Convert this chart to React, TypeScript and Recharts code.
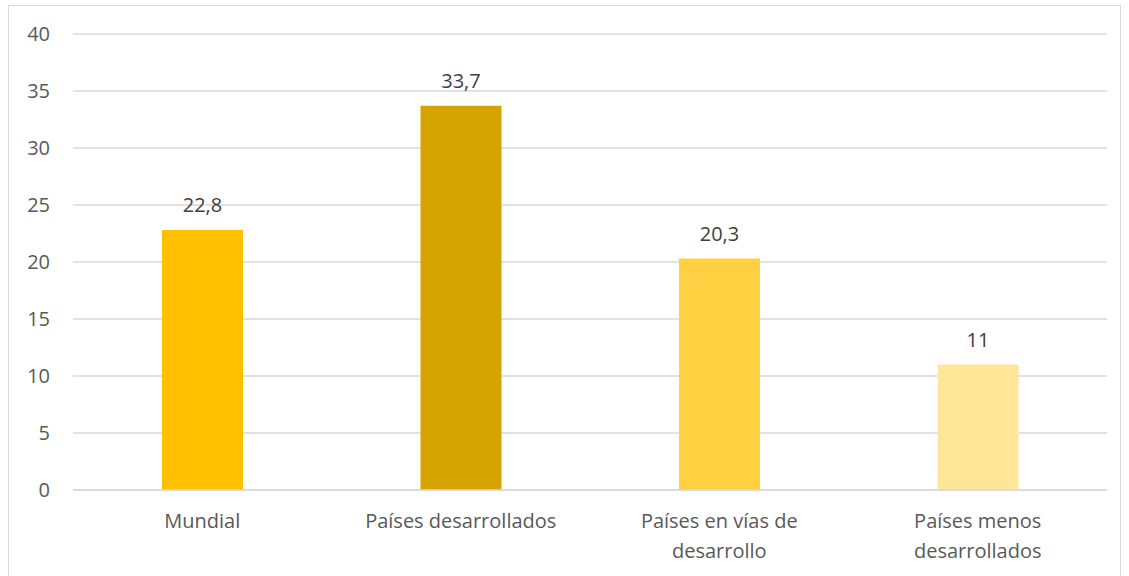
import React from "react";
import { BarChart, Bar, XAxis, YAxis, CartesianGrid, LabelList, Cell } from "recharts";

const categories = [
  "Mundial",
  "Países desarrollados",
  "Países en vías de desarrollo",
  "Países menos desarrollados",
];
const values = [22.8, 33.7, 20.3, 11];
const barColors = ["#FFC000", "#D6A400", "#FFD142", "#FFE699"];
const yTicks = [0, 5, 10, 15, 20, 25, 30, 35, 40];

const data = categories.map((name, i) => ({ name, value: values[i] }));

const FONT = "'Open Sans', sans-serif";

function wrap(label: string, max: number): string[] {
  const words = label.split(" ");
  const lines: string[] = [];
  let cur = "";
  for (const w of words) {
    const next = cur ? cur + " " + w : w;
    if (next.length > max && cur) {
      lines.push(cur);
      cur = w;
    } else {
      cur = next;
    }
  }
  if (cur) lines.push(cur);
  return lines;
}

const XTick = (props: any) => {
  const { x, y, payload } = props;
  const lines = wrap(String(payload.value), 20);
  return (
    <text x={x} y={y} textAnchor="middle" fill="#595959" fontSize={20} fontFamily={FONT}>
      {lines.map((l, i) => (
        <tspan key={i} x={x} y={y + 30 + i * 30}>
          {l}
        </tspan>
      ))}
    </text>
  );
};

export default function App() {
  return (
    <div
      style={{
        position: "absolute",
        left: 8,
        top: 5,
        width: 1113,
        height: 580,
        border: "1px solid #D9D9D9",
        boxSizing: "border-box",
        background: "#fff",
      }}
    >
      <BarChart
        width={1111}
        height={569}
        data={data}
        margin={{ top: 28, right: 13, left: 0, bottom: 0 }}
        style={{ fontFamily: FONT }}
      >
        <CartesianGrid vertical={false} stroke="#D9D9D9" strokeWidth={1.5} />
        <XAxis
          dataKey="name"
          height={85}
          axisLine={{ stroke: "#D9D9D9", strokeWidth: 1.5 }}
          tickLine={false}
          interval={0}
          tick={<XTick />}
        />
        <YAxis
          width={64}
          domain={[0, 40]}
          ticks={yTicks}
          axisLine={false}
          tickLine={false}
          tickMargin={17}
          tick={{ fill: "#595959", fontSize: 20, fontFamily: FONT }}
        />
        <Bar dataKey="value" barSize={81} isAnimationActive={false}>
          {data.map((d, i) => (
            <Cell key={d.name} fill={barColors[i]} />
          ))}
          <LabelList
            dataKey="value"
            position="top"
            offset={18}
            fill="#404040"
            fontSize={20}
            fontFamily={FONT}
            formatter={(v: any) => String(v).replace(".", ",")}
          />
        </Bar>
      </BarChart>
    </div>
  );
}
